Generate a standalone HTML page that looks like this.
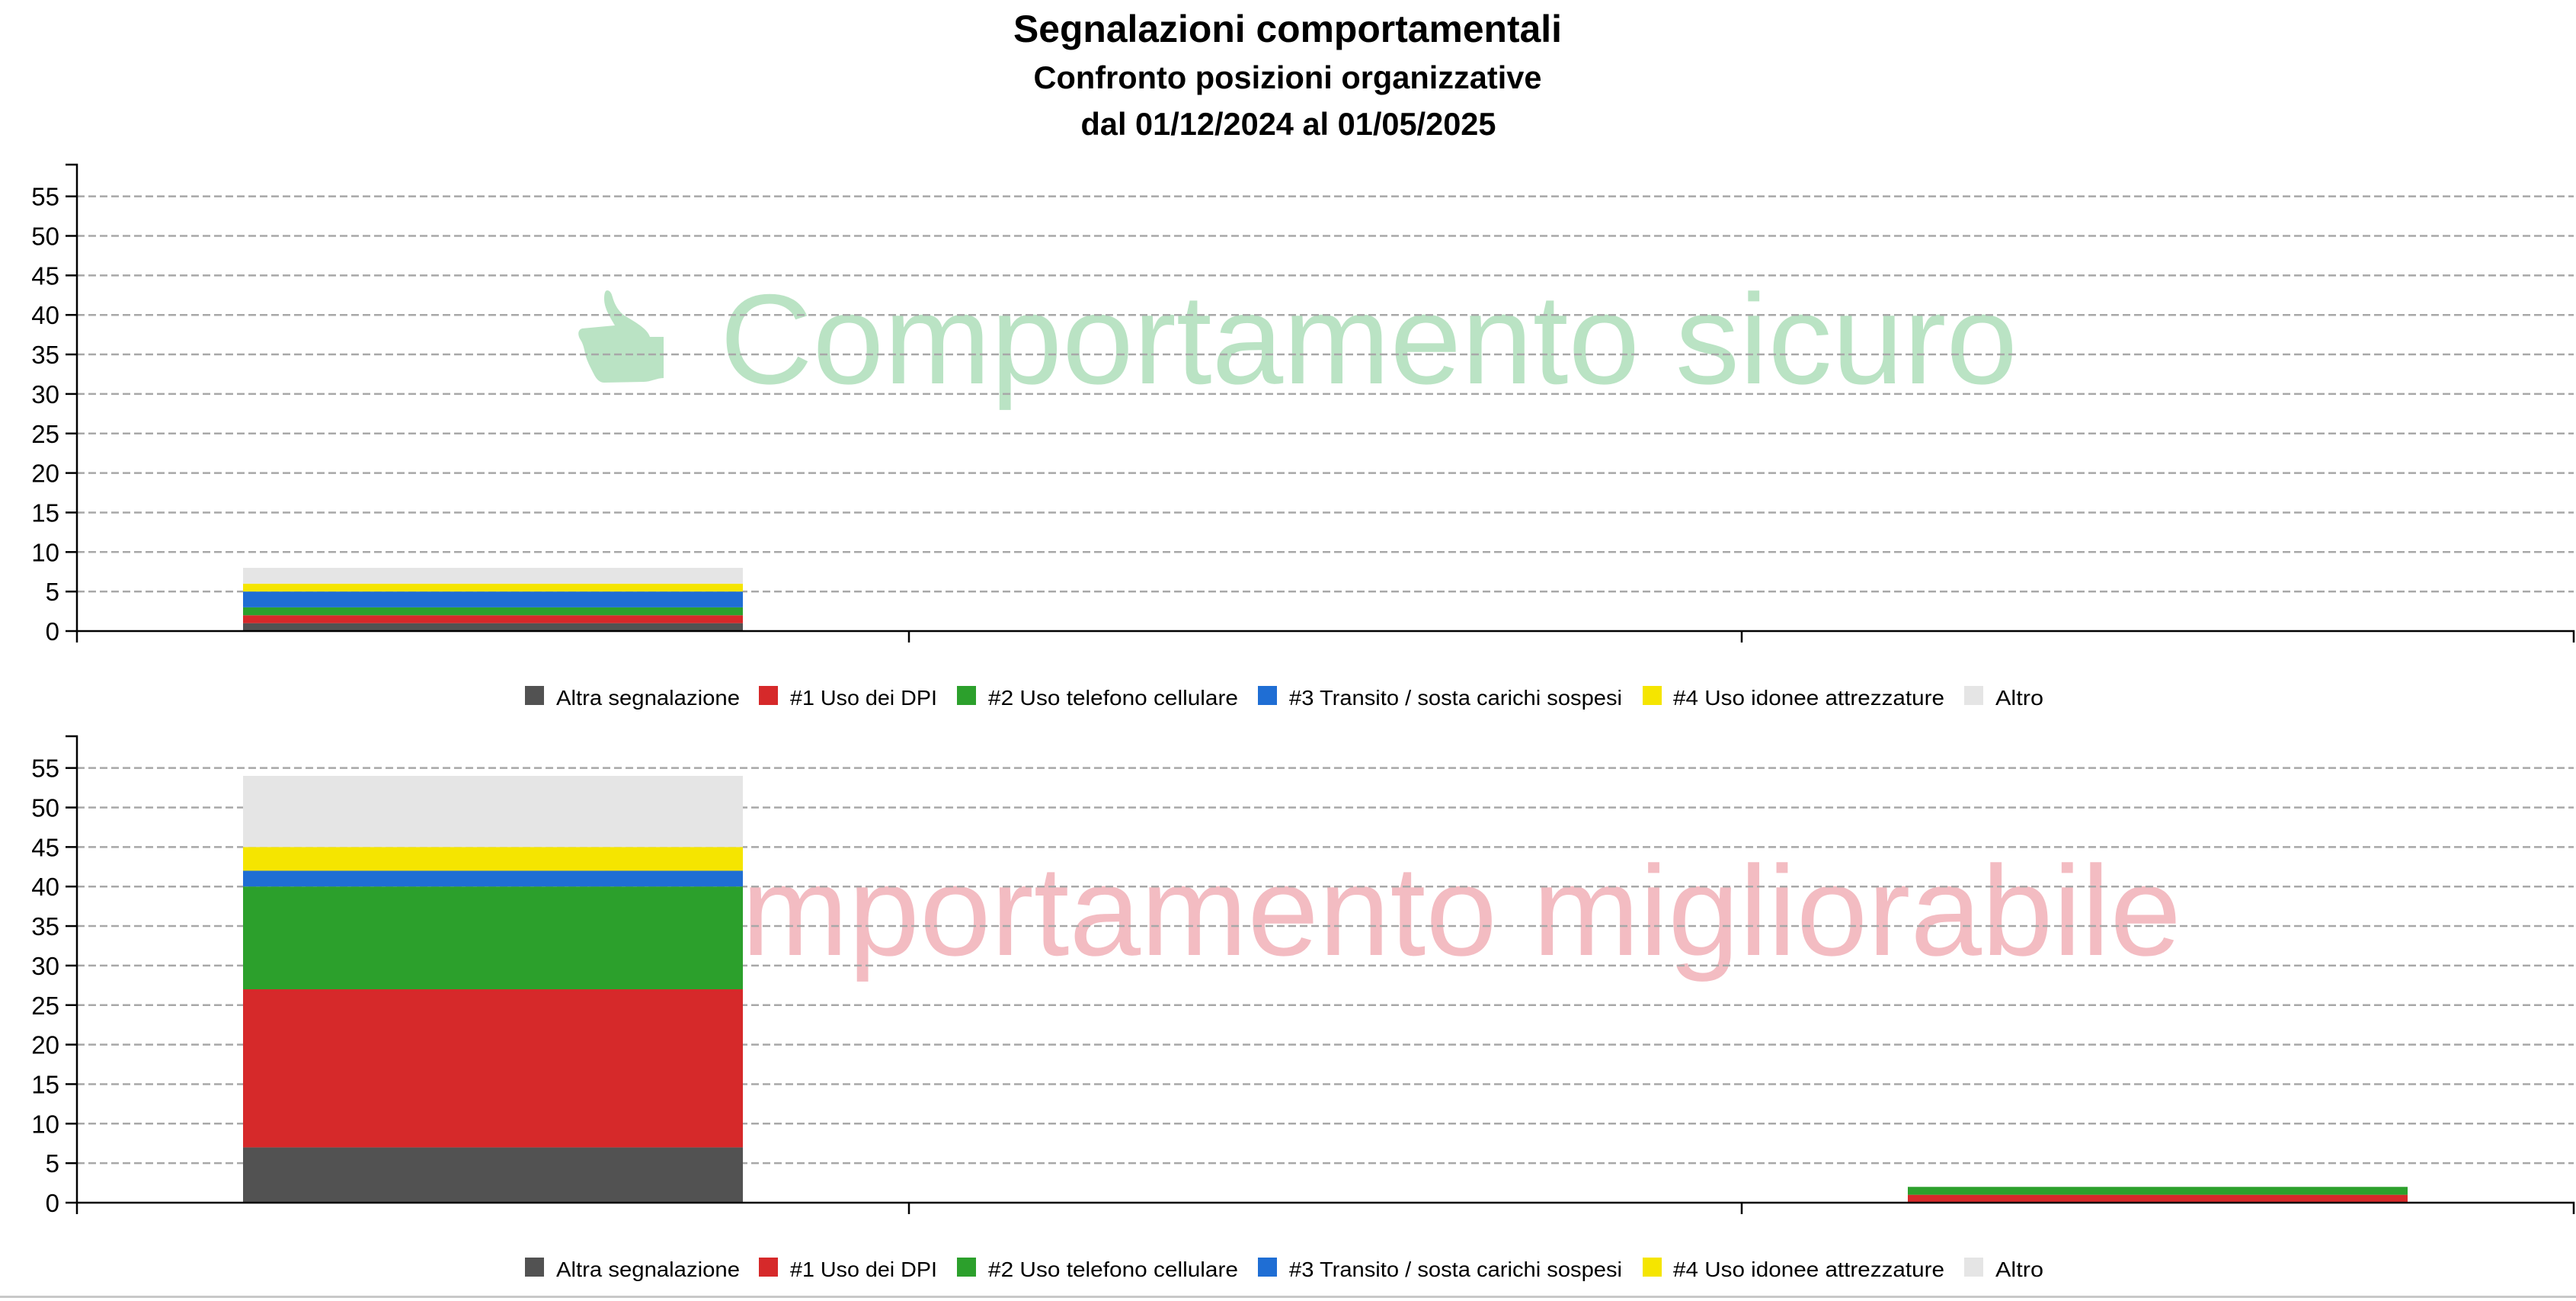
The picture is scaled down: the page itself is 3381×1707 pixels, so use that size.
<!DOCTYPE html>
<html>
<head>
<meta charset="utf-8">
<style>
  html, body { margin: 0; padding: 0; background: #ffffff; }
  body { width: 3381px; height: 1707px; overflow: hidden; }
  svg { display: block; }
  text { font-family: "Liberation Sans", Arial, sans-serif; }
</style>
</head>
<body>
<svg xmlns="http://www.w3.org/2000/svg" width="3381" height="1707" viewBox="0 0 3381 1707">
  <rect x="0" y="0" width="3381" height="1707" fill="#ffffff"/>

  <!-- Titles -->
  <text x="1690" y="55" text-anchor="middle" font-size="50" font-weight="bold" fill="#000" textLength="720" lengthAdjust="spacingAndGlyphs">Segnalazioni comportamentali</text>
  <text x="1690" y="116" text-anchor="middle" font-size="41.5" font-weight="bold" fill="#000" textLength="667" lengthAdjust="spacingAndGlyphs">Confronto posizioni organizzative</text>
  <text x="1691" y="177" text-anchor="middle" font-size="41.5" font-weight="bold" fill="#000" textLength="545" lengthAdjust="spacingAndGlyphs">dal 01/12/2024 al 01/05/2025</text>

  <!-- ================= TOP CHART ================= -->
  <g id="top">
    <!-- watermark -->
    <path fill="#bae3c4" d="M 797 381 C 801 381 803 386 804 390 C 807 400 812 410 823 416 C 836 424 850 432 853 442 L 871 442 L 871 496 C 862 496 854 501 845 501 L 793 502 C 786 502 782 496 779 490 C 776 484 772 477 769 468 C 767 460 766 452 762 446 C 758 440 758 433 764 431 L 807 427 C 800 415 793 404 793 392 C 793 386 794 381 797 381 Z"/>
    <text x="945" y="503" font-size="168" fill="#bae3c4" textLength="1703" lengthAdjust="spacingAndGlyphs">Comportamento sicuro</text>

    <!-- grid -->
    <g stroke="#a8a8a8" stroke-width="2.5" stroke-dasharray="10,5">
      <line x1="101" x2="3378" y1="776.15" y2="776.15"/>
      <line x1="101" x2="3378" y1="724.3" y2="724.3"/>
      <line x1="101" x2="3378" y1="672.45" y2="672.45"/>
      <line x1="101" x2="3378" y1="620.6" y2="620.6"/>
      <line x1="101" x2="3378" y1="568.75" y2="568.75"/>
      <line x1="101" x2="3378" y1="516.9" y2="516.9"/>
      <line x1="101" x2="3378" y1="465.05" y2="465.05"/>
      <line x1="101" x2="3378" y1="413.2" y2="413.2"/>
      <line x1="101" x2="3378" y1="361.35" y2="361.35"/>
      <line x1="101" x2="3378" y1="309.5" y2="309.5"/>
      <line x1="101" x2="3378" y1="257.65" y2="257.65"/>
    </g>

    <!-- bars: boundaries 0,1,2,3,5,6,8 -->
    <rect x="319" width="656" y="817.63" height="10.37" fill="#525252"/>
    <rect x="319" width="656" y="807.26" height="10.37" fill="#d6292a"/>
    <rect x="319" width="656" y="796.89" height="10.37" fill="#2ca02c"/>
    <rect x="319" width="656" y="776.15" height="20.74" fill="#1f6ed4"/>
    <rect x="319" width="656" y="765.78" height="10.37" fill="#f5e500"/>
    <rect x="319" width="656" y="745.04" height="20.74" fill="#e5e5e5"/>

    <!-- axes -->
    <g stroke="#000" stroke-width="2.5" fill="none">
      <path d="M86 216 H101 V828"/>
      <path d="M101 843 V828 H3378 V843"/>
      <line x1="1193" x2="1193" y1="828" y2="843"/>
      <line x1="2286" x2="2286" y1="828" y2="843"/>
      <line x1="86" x2="101" y1="828" y2="828"/>
      <line x1="86" x2="101" y1="776.15" y2="776.15"/>
      <line x1="86" x2="101" y1="724.3" y2="724.3"/>
      <line x1="86" x2="101" y1="672.45" y2="672.45"/>
      <line x1="86" x2="101" y1="620.6" y2="620.6"/>
      <line x1="86" x2="101" y1="568.75" y2="568.75"/>
      <line x1="86" x2="101" y1="516.9" y2="516.9"/>
      <line x1="86" x2="101" y1="465.05" y2="465.05"/>
      <line x1="86" x2="101" y1="413.2" y2="413.2"/>
      <line x1="86" x2="101" y1="361.35" y2="361.35"/>
      <line x1="86" x2="101" y1="309.5" y2="309.5"/>
      <line x1="86" x2="101" y1="257.65" y2="257.65"/>
    </g>
    <g font-size="33" fill="#000" text-anchor="end">
      <text x="78" y="840">0</text>
      <text x="78" y="788.15">5</text>
      <text x="78" y="736.3">10</text>
      <text x="78" y="684.45">15</text>
      <text x="78" y="632.6">20</text>
      <text x="78" y="580.75">25</text>
      <text x="78" y="528.9">30</text>
      <text x="78" y="477.05">35</text>
      <text x="78" y="425.2">40</text>
      <text x="78" y="373.35">45</text>
      <text x="78" y="321.5">50</text>
      <text x="78" y="269.65">55</text>
    </g>

    <!-- legend -->
    <g font-size="28" fill="#000">
      <rect x="689" y="900" width="25" height="25" fill="#525252"/>
      <text x="730" y="925" textLength="241" lengthAdjust="spacingAndGlyphs">Altra segnalazione</text>
      <rect x="996" y="900" width="25" height="25" fill="#d6292a"/>
      <text x="1037" y="925" textLength="193" lengthAdjust="spacingAndGlyphs">#1 Uso dei DPI</text>
      <rect x="1256" y="900" width="25" height="25" fill="#2ca02c"/>
      <text x="1297" y="925" textLength="328" lengthAdjust="spacingAndGlyphs">#2 Uso telefono cellulare</text>
      <rect x="1651" y="900" width="25" height="25" fill="#1f6ed4"/>
      <text x="1692" y="925" textLength="437" lengthAdjust="spacingAndGlyphs">#3 Transito / sosta carichi sospesi</text>
      <rect x="2156" y="900" width="25" height="25" fill="#f5e500"/>
      <text x="2196" y="925" textLength="356" lengthAdjust="spacingAndGlyphs">#4 Uso idonee attrezzature</text>
      <rect x="2578" y="900" width="25" height="25" fill="#e5e5e5"/>
      <text x="2619" y="925" textLength="63" lengthAdjust="spacingAndGlyphs">Altro</text>
    </g>
  </g>

  <!-- ================= BOTTOM CHART ================= -->
  <g id="bottom" transform="translate(0,750)">
    <!-- watermark -->
    <text x="758" y="503" font-size="168" fill="#f3bcc2" textLength="2105" lengthAdjust="spacingAndGlyphs">Comportamento migliorabile</text>

    <!-- grid -->
    <g stroke="#a8a8a8" stroke-width="2.5" stroke-dasharray="10,5">
      <line x1="101" x2="3378" y1="776.15" y2="776.15"/>
      <line x1="101" x2="3378" y1="724.3" y2="724.3"/>
      <line x1="101" x2="3378" y1="672.45" y2="672.45"/>
      <line x1="101" x2="3378" y1="620.6" y2="620.6"/>
      <line x1="101" x2="3378" y1="568.75" y2="568.75"/>
      <line x1="101" x2="3378" y1="516.9" y2="516.9"/>
      <line x1="101" x2="3378" y1="465.05" y2="465.05"/>
      <line x1="101" x2="3378" y1="413.2" y2="413.2"/>
      <line x1="101" x2="3378" y1="361.35" y2="361.35"/>
      <line x1="101" x2="3378" y1="309.5" y2="309.5"/>
      <line x1="101" x2="3378" y1="257.65" y2="257.65"/>
    </g>

    <!-- bar 1: boundaries 0,7,27,40,42,45,54 -->
    <rect x="319" width="656" y="755.41" height="72.59" fill="#525252"/>
    <rect x="319" width="656" y="548.01" height="207.4" fill="#d6292a"/>
    <rect x="319" width="656" y="413.2" height="134.81" fill="#2ca02c"/>
    <rect x="319" width="656" y="392.46" height="20.74" fill="#1f6ed4"/>
    <rect x="319" width="656" y="361.35" height="31.11" fill="#f5e500"/>
    <rect x="319" width="656" y="268.02" height="93.33" fill="#e5e5e5"/>

    <!-- bar 3: red 0-1, green 1-2 -->
    <rect x="2504" width="656" y="817.63" height="10.37" fill="#d6292a"/>
    <rect x="2504" width="656" y="807.26" height="10.37" fill="#2ca02c"/>

    <!-- axes -->
    <g stroke="#000" stroke-width="2.5" fill="none">
      <path d="M86 216 H101 V828"/>
      <path d="M101 843 V828 H3378 V843"/>
      <line x1="1193" x2="1193" y1="828" y2="843"/>
      <line x1="2286" x2="2286" y1="828" y2="843"/>
      <line x1="86" x2="101" y1="828" y2="828"/>
      <line x1="86" x2="101" y1="776.15" y2="776.15"/>
      <line x1="86" x2="101" y1="724.3" y2="724.3"/>
      <line x1="86" x2="101" y1="672.45" y2="672.45"/>
      <line x1="86" x2="101" y1="620.6" y2="620.6"/>
      <line x1="86" x2="101" y1="568.75" y2="568.75"/>
      <line x1="86" x2="101" y1="516.9" y2="516.9"/>
      <line x1="86" x2="101" y1="465.05" y2="465.05"/>
      <line x1="86" x2="101" y1="413.2" y2="413.2"/>
      <line x1="86" x2="101" y1="361.35" y2="361.35"/>
      <line x1="86" x2="101" y1="309.5" y2="309.5"/>
      <line x1="86" x2="101" y1="257.65" y2="257.65"/>
    </g>
    <g font-size="33" fill="#000" text-anchor="end">
      <text x="78" y="840">0</text>
      <text x="78" y="788.15">5</text>
      <text x="78" y="736.3">10</text>
      <text x="78" y="684.45">15</text>
      <text x="78" y="632.6">20</text>
      <text x="78" y="580.75">25</text>
      <text x="78" y="528.9">30</text>
      <text x="78" y="477.05">35</text>
      <text x="78" y="425.2">40</text>
      <text x="78" y="373.35">45</text>
      <text x="78" y="321.5">50</text>
      <text x="78" y="269.65">55</text>
    </g>

    <!-- legend -->
    <g font-size="28" fill="#000">
      <rect x="689" y="900" width="25" height="25" fill="#525252"/>
      <text x="730" y="925" textLength="241" lengthAdjust="spacingAndGlyphs">Altra segnalazione</text>
      <rect x="996" y="900" width="25" height="25" fill="#d6292a"/>
      <text x="1037" y="925" textLength="193" lengthAdjust="spacingAndGlyphs">#1 Uso dei DPI</text>
      <rect x="1256" y="900" width="25" height="25" fill="#2ca02c"/>
      <text x="1297" y="925" textLength="328" lengthAdjust="spacingAndGlyphs">#2 Uso telefono cellulare</text>
      <rect x="1651" y="900" width="25" height="25" fill="#1f6ed4"/>
      <text x="1692" y="925" textLength="437" lengthAdjust="spacingAndGlyphs">#3 Transito / sosta carichi sospesi</text>
      <rect x="2156" y="900" width="25" height="25" fill="#f5e500"/>
      <text x="2196" y="925" textLength="356" lengthAdjust="spacingAndGlyphs">#4 Uso idonee attrezzature</text>
      <rect x="2578" y="900" width="25" height="25" fill="#e5e5e5"/>
      <text x="2619" y="925" textLength="63" lengthAdjust="spacingAndGlyphs">Altro</text>
    </g>
  </g>

  <!-- bottom border line -->
  <rect x="0" y="1700" width="3381" height="3" fill="#c8c8c8"/>
</svg>
</body>
</html>
